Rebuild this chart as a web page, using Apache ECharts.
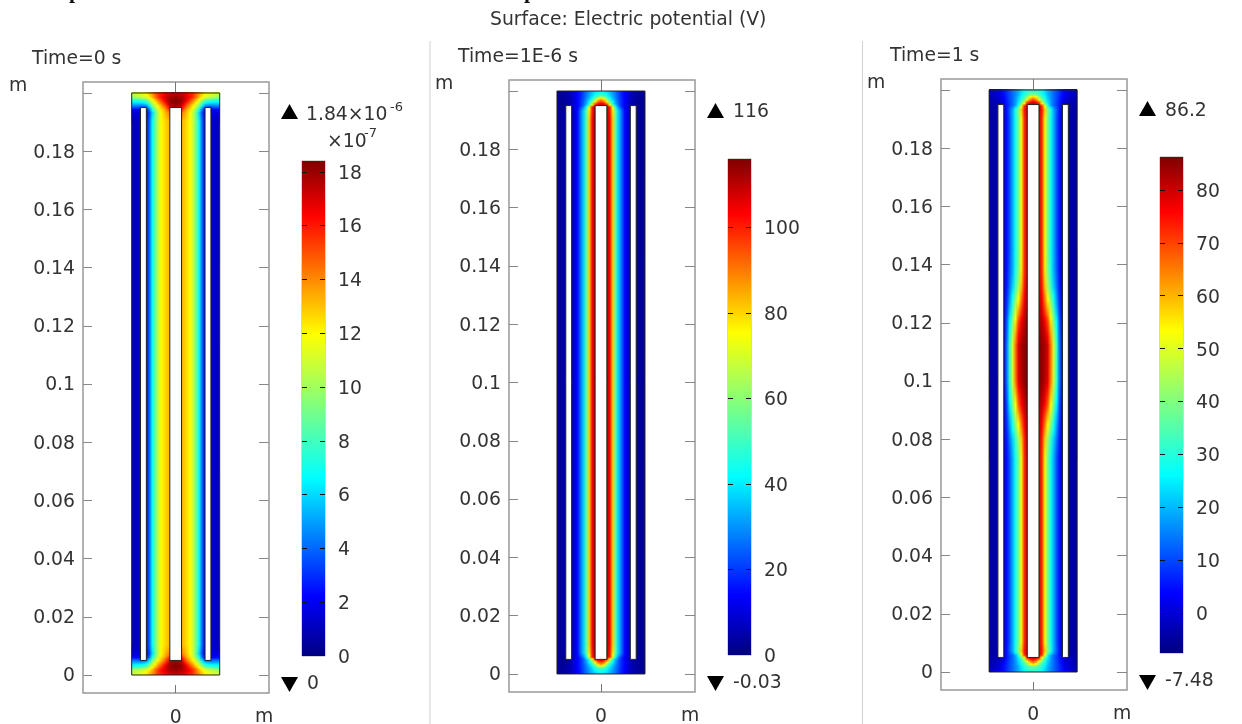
<!DOCTYPE html>
<html><head><meta charset="utf-8">
<script src="https://cdn.jsdelivr.net/npm/echarts@6/dist/echarts.min.js"></script>
<style>html,body{margin:0;padding:0;background:#fff}#c{width:1242px;height:724px;filter:blur(0.35px)}</style>
</head><body><div id="c"></div>
<script>
// ---------- data ----------
const panelTimes = ['Time=0 s', 'Time=1E-6 s', 'Time=1 s'];
const yTickValues = [0, 0.02, 0.04, 0.06, 0.08, 0.1, 0.12, 0.14, 0.16, 0.18];
const xTickValues = [0];
const p1BarTicks = [0, 2, 4, 6, 8, 10, 12, 14, 16, 18];
const p2BarTicks = [0, 20, 40, 60, 80, 100];
const p3BarTicks = [0, 10, 20, 30, 40, 50, 60, 70, 80];
const p1Range = [0, 18.4];
const p2Range = [-0.03, 116];
const p3Range = [-7.48, 86.2];
// station offsets from the centre line, mm
const xStationsMm = [0, 1, 2, 3, 4, 5, 6, 7, 8, 9, 10, 11, 12, 13, 14, 15];
// distance from the top / bottom wall, mm
const endDepthsMm = [0, 1.5, 3, 4.5, 5.5, 7, 10];
// potential at each station, per wall depth (units of the panel's colour bar)
const p1EndRows = [
  [17.1,17.1,16.9,16.6,16.2,15.8,15.5,14.7,14.0,13.2,12.5,12.0,11.6,11.4,11.2,11.0],
  [18.0,17.8,17.7,17.3,16.7,16.2,15.5,14.4,13.2,12.3,11.4,10.9,10.6,10.3,10.1,10.0],
  [18.4,18.2,18.0,17.3,16.2,15.1,14.0,12.7,11.4,9.8,8.2,7.6,7.3,7.1,7.0,6.9],
  [18.0,17.8,17.5,15.6,14.4,13.2,12.1,10.7,9.2,6.4,4.6,4.3,4.2,4.4,4.5,4.6],
  [16.6,16.6,16.2,14.8,13.4,12.6,11.4,9.6,7.4,4.6,2.6,2.4,2.5,2.6,2.7,2.7],
  [14.2,14.2,14.2,13.6,12.8,11.9,10.5,8.5,5.9,3.3,1.8,1.7,1.7,1.6,1.5,1.4],
  [13.2,13.2,13.2,12.9,12.4,11.9,10.6,8.8,6.6,3.9,2.0,1.7,1.5,1.2,1.0,0.9]
];
const p2EndRows = [
  [39,38,36,33,30,26,21,17,14,10,7,5,3.5,3,2.5,2],
  [49,47,43,37,32,27,22,17,14,10,7,5,3.5,3,2.5,2],
  [84,76,58,45,36,29,23,18,14,10,7,4.5,3,2.5,2,2],
  [107,104,93,66,46,33,24,18,14,10,6,3.5,2.5,2,2,2],
  [112,112,110,100,72,42,28,19,14,9.5,6,3,2,2,2,1.5],
  [110,110,111,101,78,53,36,26,15,9.5,6,4,3,2.5,2.5,2],
  [110,110,112,103,81,53,36,26,15,9,6,4.5,3.5,3,2.5,2]
];
const p3EndRows = [
  [30,29.5,28,26,22.5,19,16,13,10.3,7.5,4.7,2.8,1,0,-1,-1.9],
  [36.5,35.5,33,29,24.4,19.7,16,13,10.3,7.5,4.7,1.9,0.5,-0.9,-1.9,-2.3],
  [63,57,44,34,28,21.6,16.9,13,10.3,6.6,3.8,1,-0.9,-1.9,-2.8,-3.3],
  [80,78,72,50.6,36,24.4,17.8,13,9.4,5.6,1.9,-1.9,-2.8,-3.3,-3.7,-3.7],
  [83,83,80,72,51.5,30,18.8,13,9.4,5.6,1,-2.8,-3.7,-3.7,-3.7,-4.2],
  [80,80,80,74,58,40,29,19,12,5.5,1,-2,-3.3,-4,-4.3,-4.6],
  [80,80,80,72,54,38,28,19,11,5,1,-1,-3,-4,-4.5,-5]
];
// the bulge in the third panel: heights (m) and profiles
const p3BulgeHeights = [0.145, 0.138, 0.132, 0.126, 0.120, 0.112, 0.100, 0.092, 0.086, 0.080, 0.073];
const p3BulgeRows = [
  [80,80,80,72,54,38,28,19,11,5,1,-1,-3,-4,-4.5,-5],
  [80,80,80,72,55,39,29,19,12,5,1,-1,-3,-4,-4.5,-5],
  [81,81,81,74,59,44,33,22,14,6,1,-1,-3,-4,-4.5,-5],
  [82,82,82,78,68,57,44,31,19,8,1,-1,-3,-4,-4.5,-5],
  [84,84,84,82,77,70,56,40,26,11,0.5,-1,-3,-4,-4.5,-5],
  [86,86,86,85,83,79,66,49,33,14,0,-1,-3,-4,-4.5,-5],
  [86,86,86,85,82,78,65,48,32,14,0,-1,-3,-4,-4.5,-5],
  [84,84,84,81,76,68,54,39,25,10,0.5,-1,-3,-4,-4.5,-5],
  [82,82,82,77,67,56,43,30,19,8,1,-1,-3,-4,-4.5,-5],
  [81,81,81,73,58,43,32,22,14,6,1,-1,-3,-4,-4.5,-5],
  [80,80,80,72,54,38,28,19,11,5,1,-1,-3,-4,-4.5,-5]
];
// geometry in metres: [xLeft, xRight, yBottom, yTop]
const outline = [-0.015, 0.015, 0, 0.2];
const slots = [
  [-0.012, -0.010, 0.005, 0.195],
  [-0.002, 0.002, 0.005, 0.195],
  [0.010, 0.012, 0.005, 0.195]
];
const jetStops = [
  [0, 0, 0, 130], [0.12, 0, 0, 255], [0.36, 0, 255, 255],
  [0.65, 255, 255, 0], [0.89, 255, 0, 0], [1, 128, 0, 0]
];

// ---------- layout ----------
const yRange = [-0.00619, 0.20378];
const layouts = [
  { plot: [83, 82, 186, 611], xr: [-0.0316, 0.0318], bar: [302, 161, 23, 495], range: p1Range, ticks: p1BarTicks, rows: p1EndRows, mid: null,
    time: [32, 59], max: [281, 104, 306, 115], min: [281, 677, 307, 684], minText: '0' },
  { plot: [509, 80, 186, 612], xr: [-0.03136, 0.03205], bar: [728, 159, 23, 496], range: p2Range, ticks: p2BarTicks, rows: p2EndRows, mid: null,
    time: [458, 57], max: [707, 103, 733, 112], min: [707, 676, 733, 683], minText: '-0.03' },
  { plot: [941, 79, 186, 611], xr: [-0.0314, 0.032], bar: [1160, 157, 23, 496], range: p3Range, ticks: p3BarTicks, rows: p3EndRows, mid: [p3BulgeHeights, p3BulgeRows],
    time: [890, 56], max: [1139, 101, 1165, 111], min: [1139, 675, 1165, 681], minText: '-7.48' }
];
const FONT = '"DejaVu Sans", sans-serif';
const TXT = '#333';
const AXIS = '#999';
const FS = 18.8;
const NO_LINE = { show: false, onZero: false };
const tickText = pad => ({ fontSize: FS, fontFamily: FONT, color: TXT, padding: [pad, 0, 0, 0] });

function jet(f) {
  f = Math.max(0, Math.min(1, f));
  for (let i = 1; i < jetStops.length; i++) {
    const a = jetStops[i - 1], b = jetStops[i];
    if (f <= b[0]) {
      const t = (f - a[0]) / (b[0] - a[0]);
      return 'rgb(' + [1, 2, 3].map(k => Math.round(a[k] + (b[k] - a[k]) * t)).join(',') + ')';
    }
  }
  return 'rgb(128,0,0)';
}

// Shading strips between the read rows (surface shading, as a mesh plot does)
function fieldStrips(L) {
  const knots = [];
  endDepthsMm.forEach((d, i) => knots.push([0.2 - d / 1000, L.rows[i]]));
  if (L.mid) L.mid[0].forEach((y, i) => knots.push([y, L.mid[1][i]]));
  endDepthsMm.slice().reverse().forEach((d, i, arr) => knots.push([d / 1000, L.rows[arr.length - 1 - i]]));
  const out = [];
  for (let k = 0; k + 1 < knots.length; k++) {
    const [y0, r0] = knots[k], [y1, r1] = knots[k + 1];
    const same = r0.every((v, i) => v === r1[i]);
    const n = same ? 1 : Math.max(1, Math.ceil((y0 - y1) / 0.00035));
    for (let s = 0; s < n; s++) {
      const t = (s + 0.5) / n;
      out.push([y0 + (y1 - y0) * s / n, y0 + (y1 - y0) * (s + 1) / n].concat(r0.map((v, i) => v + (r1[i] - v) * t)));
    }
  }
  return out;
}

const grid = [], xAxis = [], yAxis = [], series = [], graphic = [];

function text(x, y, str, size, extra) {
  graphic.push(Object.assign({ type: 'text', x, y, silent: true,
    style: { text: str, fontSize: size, fontFamily: FONT, fill: TXT, align: 'left', verticalAlign: 'middle' } }, extra || {}));
}

layouts.forEach((L, p) => {
  const [gl, gt, gw, gh] = L.plot;
  const g = grid.length;
  grid.push({ left: gl, top: gt, width: gw, height: gh, outerBoundsMode: 'none', show: true, borderColor: AXIS, borderWidth: 1.5, backgroundColor: '#fff' });
  const xBase = { gridIndex: g, type: 'value', min: L.xr[0], max: L.xr[1], splitLine: { show: false }, axisLine: NO_LINE };
  const yBase = { gridIndex: g, type: 'value', min: yRange[0], max: yRange[1], splitLine: { show: false }, axisLine: NO_LINE };
  const xi = xAxis.length, yi = yAxis.length;
  xAxis.push(Object.assign({}, xBase, { position: 'bottom',
    axisTick: { inside: true, length: 8, customValues: xTickValues, lineStyle: { color: '#777', width: 1 } },
    axisLabel: { customValues: xTickValues, margin: 16, fontSize: FS, fontFamily: FONT, color: TXT, formatter: v => String(v) } }));
  xAxis.push(Object.assign({}, xBase, { position: 'top',
    axisTick: { inside: true, length: 11, customValues: xTickValues, lineStyle: { color: '#777', width: 1 } },
    axisLabel: { show: false } }));
  yAxis.push(Object.assign({}, yBase, { position: 'left',
    axisTick: { inside: true, length: 9, customValues: yTickValues.concat([0.2]), lineStyle: { color: '#888', width: 1 } },
    axisLabel: { customValues: yTickValues, margin: 8, fontSize: FS, fontFamily: FONT, color: TXT, formatter: v => '{a|' + v + '}', rich: { a: tickText(3) } } }));
  yAxis.push(Object.assign({}, yBase, { position: 'right',
    axisTick: { inside: true, length: 10, customValues: yTickValues.concat([0.2]), lineStyle: { color: '#888', width: 1 } },
    axisLabel: { show: false } }));

  const [lo, hi] = L.range;
  series.push({
    type: 'custom', xAxisIndex: xi, yAxisIndex: yi, silent: true, animation: false, clip: true, z: 2,
    data: fieldStrips(L), encode: { y: [0, 1] },
    renderItem: (params, api) => {
      const a = api.coord([outline[0], api.value(0)]), b = api.coord([outline[1], api.value(1)]);
      const half = xStationsMm.map((x, i) => ({ x, c: jet((api.value(i + 2) - lo) / (hi - lo)) }));
      const stops = [];
      half.slice().reverse().forEach(h => stops.push({ offset: (15 - h.x) / 30, color: h.c }));
      half.slice(1).forEach(h => stops.push({ offset: (15 + h.x) / 30, color: h.c }));
      const y0 = Math.floor(a[1]), y1 = Math.ceil(b[1]);
      return { type: 'rect', shape: { x: a[0], y: y0, width: b[0] - a[0], height: y1 - y0 },
        style: { fill: new echarts.graphic.LinearGradient(0, 0, 1, 0, stops) } };
    }
  });
  series.push({
    type: 'custom', xAxisIndex: xi, yAxisIndex: yi, silent: true, animation: false, clip: false, z: 3,
    data: [outline.concat([0])].concat(slots.map(s => s.concat([1]))), encode: { x: [0, 1], y: [2, 3] },
    renderItem: (params, api) => {
      const a = api.coord([api.value(0), api.value(3)]), b = api.coord([api.value(1), api.value(2)]);
      return { type: 'rect', shape: { x: a[0], y: a[1], width: b[0] - a[0], height: b[1] - a[1] },
        style: { fill: api.value(4) ? '#fff' : 'none', stroke: '#222', lineWidth: 1 } };
    }
  });

  // colour bar
  const [bl, bt, bw, bh] = L.bar;
  const bg = grid.length;
  grid.push({ left: bl, top: bt, width: bw, height: bh, outerBoundsMode: 'none', show: true, borderColor: '#aaa', borderWidth: 1 });
  const bxi = xAxis.length, byi = yAxis.length;
  const innerTicks = L.ticks.filter(v => v - lo > (hi - lo) * 0.01);
  xAxis.push({ gridIndex: bg, type: 'value', min: 0, max: 1, show: false });
  const barY = { gridIndex: bg, type: 'value', min: lo, max: hi, splitLine: { show: false }, axisLine: NO_LINE, z: 5 };
  yAxis.push(Object.assign({}, barY, { position: 'right',
    axisTick: { inside: true, length: 5, customValues: innerTicks, lineStyle: { color: '#111', width: 1 } },
    axisLabel: { customValues: L.ticks, margin: 13, fontSize: FS, fontFamily: FONT, color: TXT, formatter: v => '{a|' + v + '}', rich: { a: tickText(4) } } }));
  yAxis.push(Object.assign({}, barY, { position: 'left',
    axisTick: { inside: true, length: 5, customValues: innerTicks, lineStyle: { color: '#111', width: 1 } },
    axisLabel: { show: false } }));
  series.push({
    type: 'custom', xAxisIndex: bxi, yAxisIndex: byi, silent: true, animation: false, z: 2,
    data: [[0, lo, 1, hi]], encode: { x: [0, 2], y: [1, 3] },
    renderItem: (params, api) => {
      const a = api.coord([api.value(0), api.value(3)]), b = api.coord([api.value(2), api.value(1)]);
      return { type: 'rect', shape: { x: a[0], y: a[1], width: b[0] - a[0], height: b[1] - a[1] },
        style: { fill: new echarts.graphic.LinearGradient(0, 1, 0, 0, jetStops.map(s => ({ offset: s[0], color: 'rgb(' + s[1] + ',' + s[2] + ',' + s[3] + ')' }))) } };
    }
  });

  // texts and extreme markers
  text(L.time[0], L.time[1], panelTimes[p], FS);
  text(gl - 74, gt + 4, 'm', FS);
  text(gl + 172, gt + gh + 24, 'm', FS);
  graphic.push({ type: 'polygon', silent: true, shape: { points: [[L.max[0] + 8.5, L.max[1]], [L.max[0] + 17, L.max[1] + 15], [L.max[0], L.max[1] + 15]] }, style: { fill: '#000' } });
  graphic.push({ type: 'polygon', silent: true, shape: { points: [[L.min[0], L.min[1]], [L.min[0] + 17, L.min[1]], [L.min[0] + 8.5, L.min[1] + 15]] }, style: { fill: '#000' } });
  text(L.min[2], L.min[3], L.minText, FS);
});

// max labels
text(306, 115, '1.84×10', FS);
text(390, 108, '-6', 13);
text(327, 142, '×10', FS);
text(364, 134, '-7', 13);
text(733, 112, '116', FS);
text(1165, 111, '86.2', FS);
// heading and clipped line above it
text(490, 20, 'Surface: Electric potential (V)', FS);
['p', 'p'].forEach((c, i) => graphic.push({ type: 'text', x: [69, 524][i], y: -19, silent: true,
  style: { text: c, fontSize: 22, fontWeight: 'bold', fontFamily: '"Liberation Serif", serif', fill: '#111', verticalAlign: 'top' } }));
// dividers
[430, 862.5].forEach(x => graphic.push({ type: 'line', silent: true, shape: { x1: x, y1: 41, x2: x, y2: 724 }, style: { stroke: '#d0d0d0', lineWidth: 1 } }));

const chart = echarts.init(document.getElementById('c'), null, { renderer: 'canvas', width: 1242, height: 724 });
chart.setOption({ backgroundColor: '#fff', animation: false, grid, xAxis, yAxis, series, graphic: { elements: graphic } });
</script></body></html>
